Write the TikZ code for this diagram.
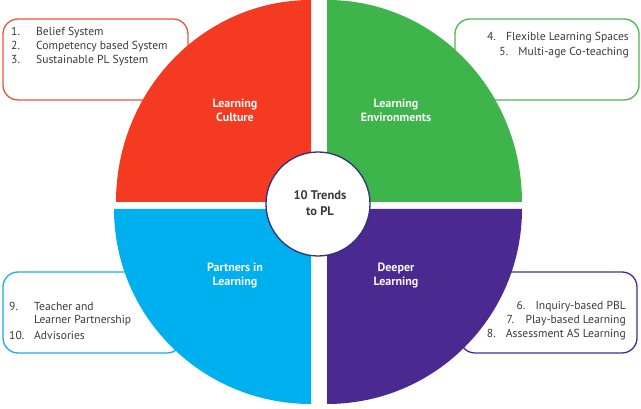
\documentclass[tikz,border=0pt]{standalone}
\usepackage{fontspec}
\setmainfont{PT Sans}
\definecolor{cred}{HTML}{F43B22}
\definecolor{cgreen}{HTML}{3DB54A}
\definecolor{cblue}{HTML}{00B0EE}
\definecolor{cpurple}{HTML}{4A2A91}
\definecolor{cnavy}{HTML}{2E3180}
\definecolor{ctext}{HTML}{3A3A3A}
\definecolor{bred}{HTML}{E8543F}
\definecolor{bgreen}{HTML}{4CB84F}
\definecolor{bblue}{HTML}{1AAEE8}
\tikzset{
  listbox/.style={draw, line width=1.3pt, rounded corners=15pt, fill=white},
  item/.style={font=\fontsize{11.6}{12}\selectfont, text=ctext, inner sep=0pt},
  qlabel/.style={font=\fontsize{12}{14}\selectfont\bfseries, text=white!95!gray, align=center, inner sep=0pt},
}
\newcommand{\numl}[2]{\makebox[25pt][l]{#1}#2}
\newcommand{\numr}[2]{\makebox[19pt][l]{#1}#2}
\begin{document}
\begin{tikzpicture}[x=1pt,y=1pt]
\useasboundingbox (0,0) rectangle (641,409);
% list boxes (behind)
\draw[listbox, draw=bred] (3,309) rectangle (188,390);
\draw[listbox, draw=bgreen] (455,309) rectangle (639,390);
\draw[listbox, draw=bblue] (3,56) rectangle (182,137);
\draw[listbox, draw=cpurple] (460,56) rectangle (637,137);
% quadrants
\fill[cred] (311,207) -- (116,207) arc[start angle=180, end angle=90, x radius=195, y radius=202] -- cycle;
\fill[cgreen] (327,207) -- (327,409) arc[start angle=90, end angle=0, x radius=195, y radius=202] -- cycle;
\fill[cblue] (311,200) -- (114,200) arc[start angle=180, end angle=270, x radius=197, y radius=195] -- cycle;
\fill[cpurple] (327,200) -- (522,200) arc[start angle=0, end angle=-90, x radius=195, y radius=195] -- cycle;
% center
\node[circle, draw=cnavy, line width=1.3pt, fill=white, minimum size=104pt, inner sep=0pt] (c) at (318,205) {};
\node[font=\fontsize{12.5}{16.5}\selectfont\bfseries, text=ctext, align=center] (ct) at (320,206) {10 Trends\\to PL};
% quadrant labels
\node[qlabel] (lc) at (235,299) {Learning\\Culture};
\node[qlabel] (le) at (396,299) {Learning\\Environments};
\node[qlabel] (pl) at (235,133) {Partners in\\Learning};
\node[qlabel] (dl) at (396,133) {Deeper\\Learning};
% red list
\node[item, anchor=west] (r1) at (11,376) {\numl{1.}{Belief System}};
\node[item, anchor=west] (r2) at (11,362) {\numl{2.}{Competency based System}};
\node[item, anchor=west] (r3) at (11,348) {\numl{3.}{Sustainable PL System}};
% green list
\node[item, anchor=east] (g1) at (629,371) {\numr{4.}{Flexible Learning Spaces}};
\node[item, anchor=east] (g2) at (629,356) {\numr{5.}{Multi-age Co-teaching}};
% blue list
\node[item, anchor=west] (b1) at (9,103) {\numl{9.}{Teacher and}};
\node[item, anchor=west] (b2) at (9,88) {\numl{}{Learner Partnership}};
\node[item, anchor=west] (b3) at (9,74) {\numl{10.}{Advisories}};
% purple list
\node[item, anchor=east] (p1) at (626,102) {\numr{6.}{Inquiry-based PBL}};
\node[item, anchor=east] (p2) at (626,88) {\numr{7.}{Play-based Learning}};
\node[item, anchor=east] (p3) at (626,74) {\numr{8.}{Assessment AS Learning}};
\end{tikzpicture}
\end{document}
